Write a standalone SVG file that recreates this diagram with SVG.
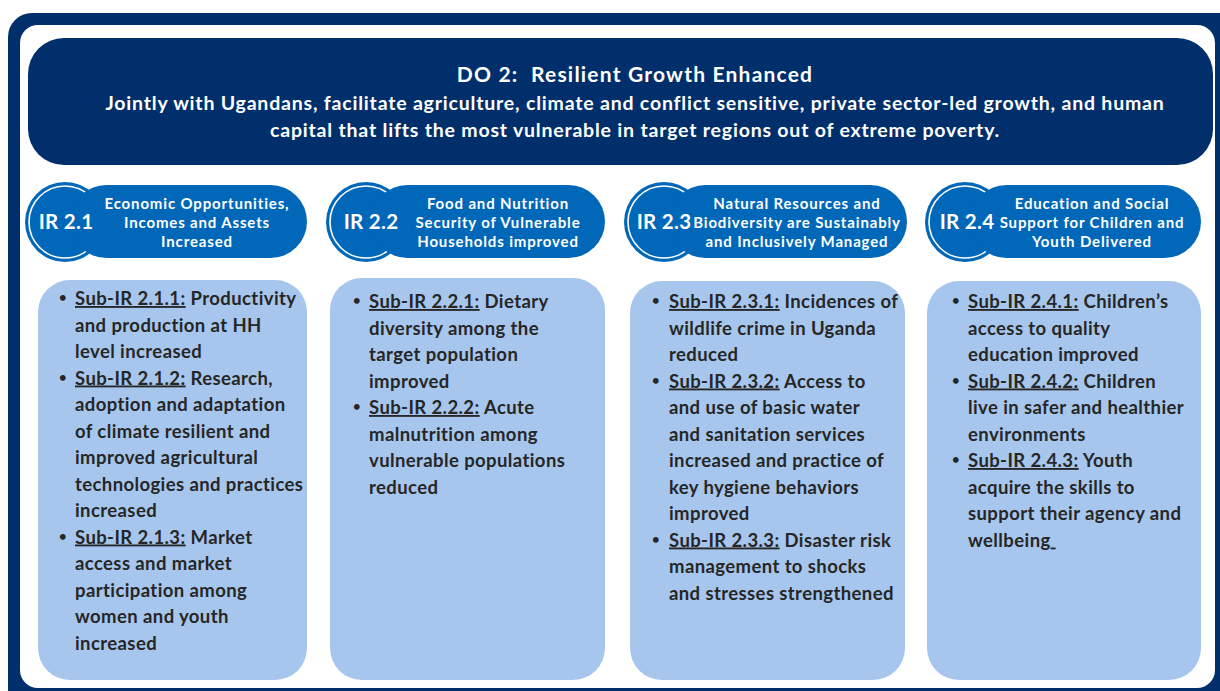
<svg xmlns="http://www.w3.org/2000/svg" width="1220" height="691" viewBox="0 0 1220 691">
<style>
.navy{fill:#002F6C}
.blue{fill:#0067B9}
.light{fill:#A7C6ED}
.t{font-family:Lato,"Liberation Sans",sans-serif;font-weight:bold}
.do1{font-size:21px;letter-spacing:1.2px;fill:#fff}
.do2{font-size:19.5px;letter-spacing:0.8px;fill:#fff}
.hd{font-size:15px;letter-spacing:0.85px;fill:#fff}
.ir{font-size:20.5px;letter-spacing:0.3px;fill:#fff}
.ring{fill:#0067B9;stroke:#fff;stroke-width:1.6}
.body{font-size:18.5px;letter-spacing:0.4px;fill:#262626}
.bl{font-size:13px}
.u{text-decoration:underline}
</style>
<rect x="8" y="13" width="1240" height="700" rx="24" class="navy"/>
<rect x="20" y="25" width="1195" height="663" rx="18" fill="#fff"/>

<g id="do2">
<rect x="28" y="38" width="1185" height="127" rx="36" class="navy"/>
<text class="t do1" x="635" y="82" text-anchor="middle" xml:space="preserve">DO 2:  Resilient Growth Enhanced</text>
<text class="t do2" x="635" y="110" text-anchor="middle">Jointly with Ugandans, facilitate agriculture, climate and conflict sensitive, private sector-led growth, and human</text>
<text class="t do2" x="635" y="137" text-anchor="middle">capital that lifts the most vulnerable in target regions out of extreme poverty.</text>
</g>

<g id="ir21">
<circle cx="65" cy="222" r="40" class="blue"/>
<circle cx="65" cy="222" r="36" class="ring"/>
<rect x="70" y="185" width="237" height="73" rx="36.5" class="blue"/>
<text class="t ir" x="66" y="229" text-anchor="middle">IR 2.1</text>
<text class="t hd" text-anchor="middle"><tspan x="197" y="209">Economic Opportunities,</tspan><tspan x="197" y="228">Incomes and Assets</tspan><tspan x="197" y="247">Increased</tspan></text>
</g>
<g id="ir22">
<circle cx="366" cy="222" r="40" class="blue"/>
<circle cx="366" cy="222" r="36" class="ring"/>
<rect x="371" y="185" width="234" height="73" rx="36.5" class="blue"/>
<text class="t ir" x="371" y="229" text-anchor="middle">IR 2.2</text>
<text class="t hd" text-anchor="middle"><tspan x="498" y="209">Food and Nutrition</tspan><tspan x="498" y="228">Security of Vulnerable</tspan><tspan x="498" y="247">Households improved</tspan></text>
</g>
<g id="ir23">
<circle cx="664" cy="222" r="40" class="blue"/>
<circle cx="664" cy="222" r="36" class="ring"/>
<rect x="669" y="185" width="238" height="73" rx="36.5" class="blue"/>
<text class="t ir" x="664" y="229" text-anchor="middle">IR 2.3</text>
<text class="t hd" text-anchor="middle"><tspan x="797" y="209">Natural Resources and</tspan><tspan x="797" y="228">Biodiversity are Sustainably</tspan><tspan x="797" y="247">and Inclusively Managed</tspan></text>
</g>
<g id="ir24">
<circle cx="965" cy="222" r="40" class="blue"/>
<circle cx="965" cy="222" r="36" class="ring"/>
<rect x="970" y="185" width="231" height="73" rx="36.5" class="blue"/>
<text class="t ir" x="967" y="229" text-anchor="middle">IR 2.4</text>
<text class="t hd" text-anchor="middle"><tspan x="1092" y="209">Education and Social</tspan><tspan x="1092" y="228">Support for Children and</tspan><tspan x="1092" y="247">Youth Delivered</tspan></text>
</g>

<g id="box21">
<rect x="38" y="280" width="269" height="400" rx="32" class="light"/>
<text class="t body">
<tspan class="bl" x="59" y="302">•</tspan><tspan x="75" y="305"><tspan class="u">Sub-IR 2.1.1:</tspan> Productivity</tspan>
<tspan x="75" y="331.5">and production at HH</tspan>
<tspan x="75" y="358">level increased</tspan>
<tspan class="bl" x="59" y="381.5">•</tspan><tspan x="75" y="384.5"><tspan class="u">Sub-IR 2.1.2:</tspan> Research,</tspan>
<tspan x="75" y="411">adoption and adaptation</tspan>
<tspan x="75" y="437.5">of climate resilient and</tspan>
<tspan x="75" y="464">improved agricultural</tspan>
<tspan x="75" y="490.5">technologies and practices</tspan>
<tspan x="75" y="517">increased</tspan>
<tspan class="bl" x="59" y="540.5">•</tspan><tspan x="75" y="543.5"><tspan class="u">Sub-IR 2.1.3:</tspan> Market</tspan>
<tspan x="75" y="570">access and market</tspan>
<tspan x="75" y="596.5">participation among</tspan>
<tspan x="75" y="623">women and youth</tspan>
<tspan x="75" y="649.5">increased</tspan>
</text>
</g>
<g id="box22">
<rect x="330" y="278" width="275" height="402" rx="32" class="light"/>
<text class="t body">
<tspan class="bl" x="353" y="305">•</tspan><tspan x="369" y="308"><tspan class="u">Sub-IR 2.2.1:</tspan> Dietary</tspan>
<tspan x="369" y="334.5">diversity among the</tspan>
<tspan x="369" y="361">target population</tspan>
<tspan x="369" y="387.5">improved</tspan>
<tspan class="bl" x="353" y="411">•</tspan><tspan x="369" y="414"><tspan class="u">Sub-IR 2.2.2:</tspan> Acute</tspan>
<tspan x="369" y="440.5">malnutrition among</tspan>
<tspan x="369" y="467">vulnerable populations</tspan>
<tspan x="369" y="493.5">reduced</tspan>
</text>
</g>
<g id="box23">
<rect x="630" y="281" width="275" height="399" rx="32" class="light"/>
<text class="t body">
<tspan class="bl" x="652" y="305">•</tspan><tspan x="669" y="308"><tspan class="u">Sub-IR 2.3.1:</tspan> Incidences of</tspan>
<tspan x="669" y="334.5">wildlife crime in Uganda</tspan>
<tspan x="669" y="361">reduced</tspan>
<tspan class="bl" x="652" y="384.5">•</tspan><tspan x="669" y="387.5"><tspan class="u">Sub-IR 2.3.2:</tspan> Access to</tspan>
<tspan x="669" y="414">and use of basic water</tspan>
<tspan x="669" y="440.5">and sanitation services</tspan>
<tspan x="669" y="467">increased and practice of</tspan>
<tspan x="669" y="493.5">key hygiene behaviors</tspan>
<tspan x="669" y="520">improved</tspan>
<tspan class="bl" x="652" y="543.5">•</tspan><tspan x="669" y="546.5"><tspan class="u">Sub-IR 2.3.3:</tspan> Disaster risk</tspan>
<tspan x="669" y="573">management to shocks</tspan>
<tspan x="669" y="599.5">and stresses strengthened</tspan>
</text>
</g>
<g id="box24">
<rect x="927" y="281" width="274" height="399" rx="32" class="light"/>
<text class="t body">
<tspan class="bl" x="952" y="305">•</tspan><tspan x="968" y="308"><tspan class="u">Sub-IR 2.4.1:</tspan> Children’s</tspan>
<tspan x="968" y="334.5">access to quality</tspan>
<tspan x="968" y="361">education improved</tspan>
<tspan class="bl" x="952" y="384.5">•</tspan><tspan x="968" y="387.5"><tspan class="u">Sub-IR 2.4.2:</tspan> Children</tspan>
<tspan x="968" y="414">live in safer and healthier</tspan>
<tspan x="968" y="440.5">environments</tspan>
<tspan class="bl" x="952" y="464">•</tspan><tspan x="968" y="467"><tspan class="u">Sub-IR 2.4.3:</tspan> Youth</tspan>
<tspan x="968" y="493.5">acquire the skills to</tspan>
<tspan x="968" y="520">support their agency and</tspan>
<tspan x="968" y="546.5">wellbeing<tspan class="u">&#160;</tspan></tspan>
</text>
</g>
<g id="connectors"/>
</svg>
